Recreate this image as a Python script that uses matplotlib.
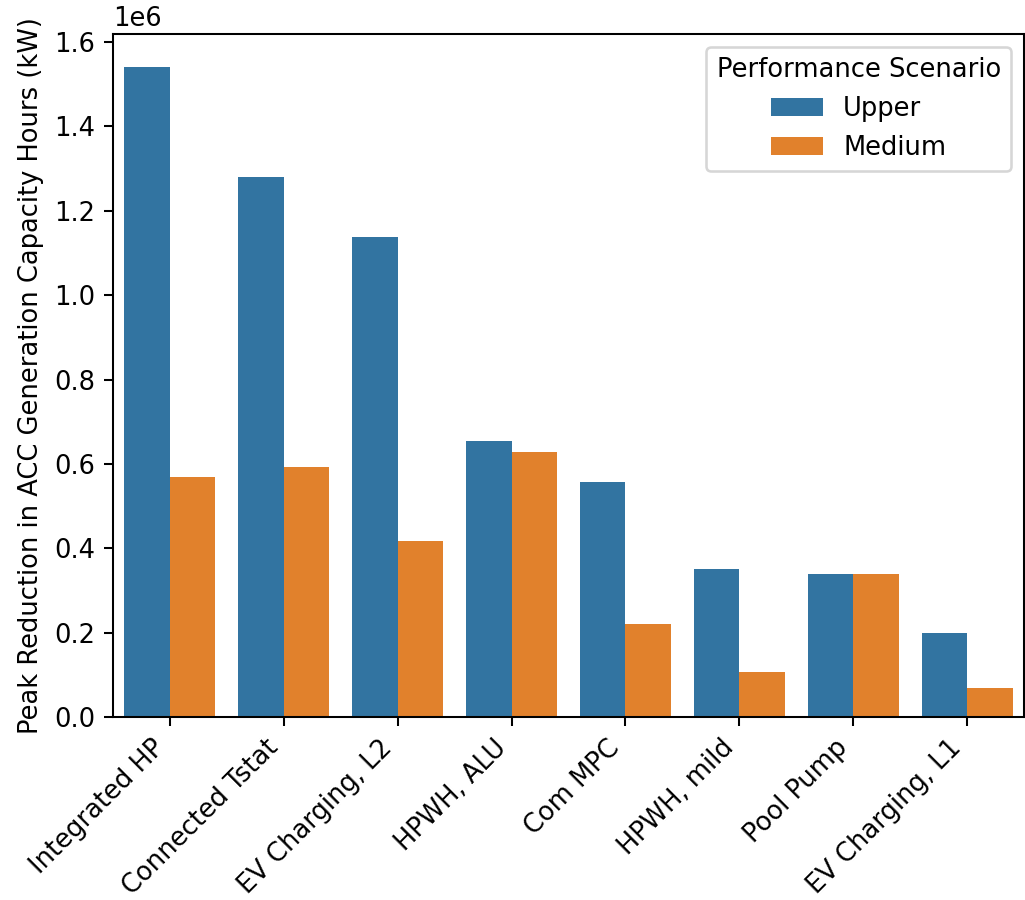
import matplotlib
matplotlib.use("Agg")
import matplotlib.pyplot as plt
import pandas as pd
import seaborn as sns

measures = ["Integrated HP", "Connected Tstat", "EV Charging, L2", "HPWH, ALU",
            "Com MPC", "HPWH, mild", "Pool Pump", "EV Charging, L1"]
upper = [1.542e6, 1.279e6, 1.139e6, 0.655e6, 0.557e6, 0.352e6, 0.338e6, 0.200e6]
medium = [0.570e6, 0.593e6, 0.418e6, 0.628e6, 0.221e6, 0.107e6, 0.338e6, 0.068e6]
scenarios = ["Upper", "Medium"]

df = pd.DataFrame({
    "Measure": measures * 2,
    "Performance Scenario": [scenarios[0]] * len(measures) + [scenarios[1]] * len(measures),
    "Value": upper + medium,
})

DPI = 185
fig = plt.figure(figsize=(1025 / DPI, 900 / DPI), dpi=DPI)
ax = fig.add_axes([113 / 1025, 1 - 717 / 900, 911 / 1025, (717 - 34) / 900])

sns.barplot(data=df, x="Measure", y="Value", hue="Performance Scenario",
            hue_order=scenarios, ax=ax, errorbar=None)

ax.set_xlabel("")
ax.set_ylabel("Peak Reduction in ACC Generation Capacity Hours (kW)")
plt.setp(ax.get_xticklabels(), rotation=45, ha="right", rotation_mode="default")
ax.legend(title="Performance Scenario", loc="upper right")

fig.savefig("out.png", dpi=DPI)
